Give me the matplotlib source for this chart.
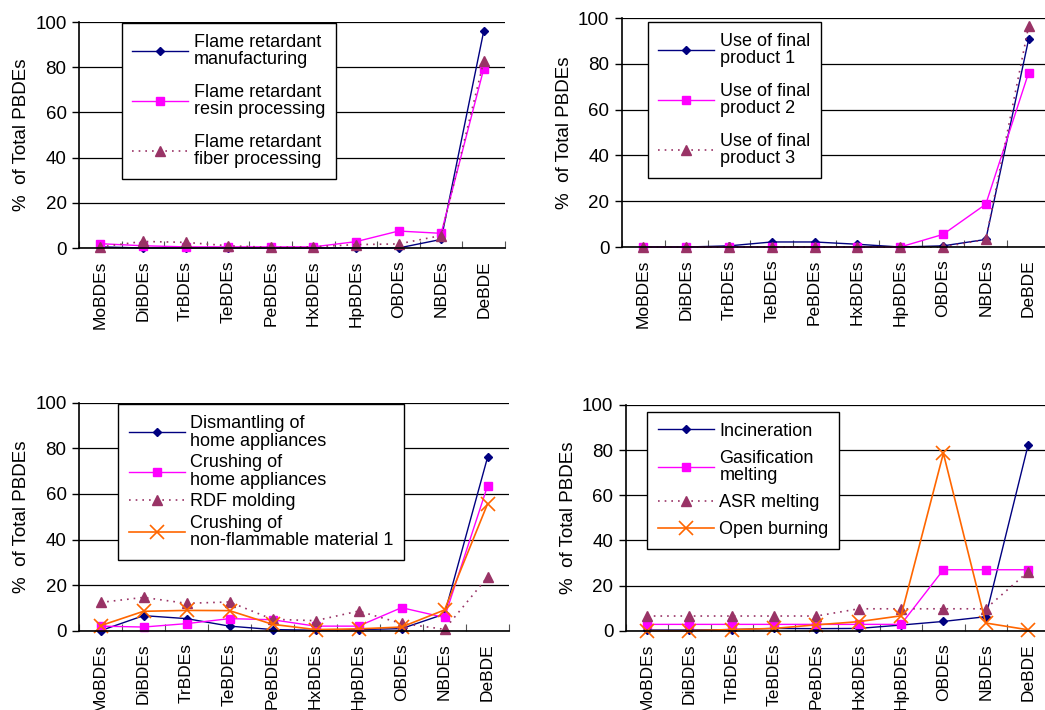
import numpy as np
import matplotlib
matplotlib.use("Agg")
import matplotlib.pyplot as plt

plt.rcParams['font.family'] = ['Liberation Sans', 'DejaVu Sans']

# congeners on the x axis
congeners = ["MoBDEs", "DiBDEs", "TrBDEs", "TeBDEs", "PeBDEs",
             "HxBDEs", "HpBDEs", "OBDEs", "NBDEs", "DeBDE"]

# panel 1: flame retardant sources
fr_manufacturing = [0.5, 0.0, 0.0, 0.0, 0.0, 0.0, 0.0, 0.0, 3.8, 96.0]
fr_resin = [1.9, 1.0, 0.5, 0.5, 0.5, 0.5, 2.8, 7.5, 6.5, 79.3]
fr_fiber = [0.5, 2.9, 2.5, 1.0, 0.3, 0.5, 1.5, 1.8, 5.5, 82.6]

# panel 2: use of final products
use_prod1 = [0.0, 0.0, 0.5, 2.2, 2.2, 1.2, 0.0, 0.5, 3.3, 90.7]
use_prod2 = [0.0, 0.0, 0.0, 0.0, 0.0, 0.0, 0.0, 5.5, 18.7, 76.1]
use_prod3 = [0.0, 0.0, 0.0, 0.0, 0.0, 0.0, 0.0, 0.0, 3.3, 96.4]

# panel 3: recycling
dismantling = [0.0, 6.6, 5.3, 2.0, 0.5, 0.2, 0.5, 0.9, 7.3, 76.0]
crushing_home = [2.0, 1.6, 3.1, 5.3, 4.8, 2.0, 2.0, 10.1, 5.8, 63.5]
rdf_molding = [12.4, 14.6, 12.0, 12.6, 5.0, 4.4, 8.6, 3.2, 0.6, 23.5]
crushing_nonflam = [2.2, 8.5, 8.9, 8.8, 2.8, 0.5, 0.8, 1.6, 9.1, 55.6]

# panel 4: thermal treatment
incineration = [0.3, 0.3, 0.5, 1.0, 0.9, 1.0, 2.5, 4.1, 6.2, 82.1]
gasification = [2.8, 2.8, 2.8, 2.8, 2.8, 2.8, 2.8, 27.0, 27.0, 27.0]
asr_melting = [6.5, 6.5, 6.5, 6.5, 6.5, 9.7, 9.7, 9.7, 9.7, 26.1]
open_burning = [0.0, 0.0, 0.5, 1.0, 2.6, 4.0, 6.6, 78.6, 3.4, 0.4]

NAVY = "#000080"
MAGENTA = "#FF00FF"
PURPLE = "#993366"
ORANGE = "#FF6600"

styles = {
    "navy": dict(color=NAVY, lw=1.0, marker="D", ms=4.5),
    "magenta": dict(color=MAGENTA, lw=1.0, marker="s", ms=6),
    "purple": dict(color=PURPLE, lw=1.2, ls=(0, (1, 3)), marker="^", ms=7),
    "orange": dict(color=ORANGE, lw=1.2, marker="x", ms=10, mew=1.2),
}


def setupAxes(ax):
    # Excel-like axes: left spine, bottom spine, horizontal grid lines
    x = np.arange(len(congeners))
    ax.set_xlim(-0.5, len(congeners) - 0.5)
    ax.set_ylim(0, 100)
    ax.set_yticks(np.arange(0, 101, 20))
    ax.set_xticks(x)
    ax.set_xticklabels(congeners, rotation=90, fontsize=12.5)
    ax.set_xticks(np.arange(-0.5, len(congeners), 1.0), minor=True)
    ax.tick_params(axis="x", which="major", length=0, pad=9)
    ax.tick_params(axis="x", which="minor", direction="in", length=5,
                   width=0.8, color="#555555")
    ax.tick_params(axis="y", direction="out", length=5, width=1.0,
                   labelsize=13.5, pad=4)
    ax.grid(axis="y", color="black", lw=0.9)
    ax.set_axisbelow(True)
    for side in ("top", "right"):
        ax.spines[side].set_visible(False)
    ax.spines["left"].set_linewidth(1.2)
    ax.spines["bottom"].set_linewidth(1.2)
    ax.set_ylabel("%  of Total PBDEs", fontsize=13.5, labelpad=4)


def drawPanel(fig, rect, series, labels, kinds, anchor, spacing):
    ax = fig.add_axes(rect)
    setupAxes(ax)
    x = np.arange(len(congeners))
    for values, label, kind in zip(series, labels, kinds):
        ax.plot(x, values, label=label, clip_on=False, **styles[kind])
    leg = ax.legend(loc="upper left", bbox_to_anchor=anchor,
                    fontsize=13, frameon=True, fancybox=False,
                    edgecolor="black", framealpha=1.0, borderpad=0.6,
                    handlelength=3.1, handletextpad=0.3,
                    labelspacing=spacing, borderaxespad=0)
    leg.get_frame().set_linewidth(1.0)
    for t in leg.get_texts():
        t.set_linespacing(1.05)
    return ax


fig = plt.figure(figsize=(10.45, 7.10), dpi=100)

drawPanel(fig, [0.0756, 0.6507, 0.4077, 0.3183],
          [fr_manufacturing, fr_resin, fr_fiber],
          ["Flame retardant\nmanufacturing",
           "Flame retardant\nresin processing",
           "Flame retardant\nfiber processing"],
          ["navy", "magenta", "purple"], (0.10, 0.996), 0.85)

drawPanel(fig, [0.5952, 0.6521, 0.4096, 0.3225],
          [use_prod1, use_prod2, use_prod3],
          ["Use of final\nproduct 1", "Use of final\nproduct 2",
           "Use of final\nproduct 3"],
          ["navy", "magenta", "purple"], (0.06, 0.983), 0.85)

drawPanel(fig, [0.0756, 0.1117, 0.4115, 0.3211],
          [dismantling, crushing_home, rdf_molding, crushing_nonflam],
          ["Dismantling of\nhome appliances", "Crushing of\nhome appliances",
           "RDF molding", "Crushing of\nnon-flammable material 1"],
          ["navy", "magenta", "purple", "orange"], (0.09, 0.994), 0.25)

drawPanel(fig, [0.5990, 0.1117, 0.4050, 0.3179],
          [incineration, gasification, asr_melting, open_burning],
          ["Incineration", "Gasification\nmelting", "ASR melting",
           "Open burning"],
          ["navy", "magenta", "purple", "orange"], (0.05, 0.969), 0.55)

fig.savefig("out.png", dpi=100)
